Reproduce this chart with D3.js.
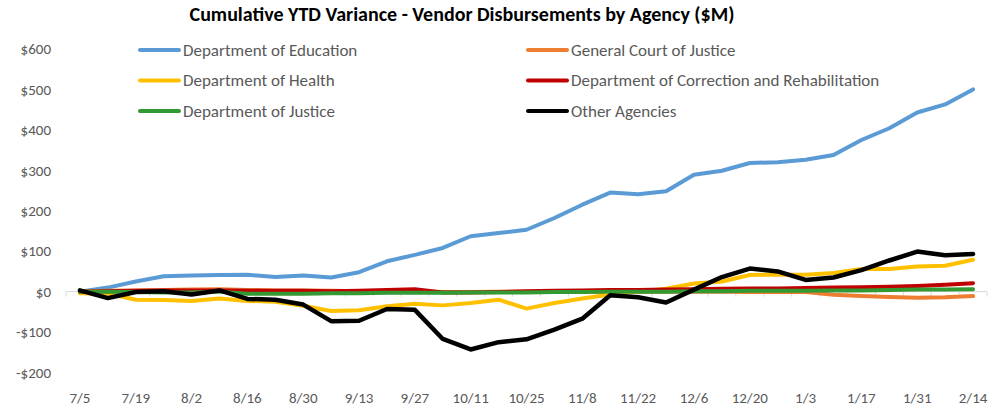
<!DOCTYPE html>
<html>
<head>
<meta charset="utf-8">
<script src="https://cdn.jsdelivr.net/npm/d3@7"></script>
<style>
  body { margin: 0; background: #fff; }
  text { font-family: Carlito, Lato, "Open Sans", sans-serif; }
</style>
</head>
<body>
<div id="chart"></div>
<script>
// week labels (every week, only every 2nd one is shown on the axis)
var weeks = ["7/5","7/12","7/19","7/26","8/2","8/9","8/16","8/23","8/30","9/6","9/13","9/20","9/27",
    "10/4","10/11","10/18","10/25","11/1","11/8","11/15","11/22","11/29","12/6","12/13","12/20",
    "12/27","1/3","1/10","1/17","1/24","1/31","2/7","2/14"];

var yTicks = [-200, -100, 0, 100, 200, 300, 400, 500, 600];

// series values ($M)
var education = [0, 10, 25, 38, 40, 41, 42, 36, 40, 35, 48, 75, 91, 108, 137, 145, 153, 182, 215, 245, 241, 248, 289, 299, 318, 320, 326, 338, 375, 404, 443, 463, 500];
var generalCourt = [0, 2, 3, 4, 5, 6, 4, 3, 3, 2, 1, 1, 0, -1, -1, 0, 0, 0, 0, 0, 0, 0, 0, 0, -1, -1, -1, -8, -11, -13, -15, -14, -11];
var health = [-4, -5, -20, -21, -23, -17, -23, -25, -35, -48, -46, -36, -30, -34, -28, -20, -42, -28, -17, -7, 0, 7, 20, 25, 41, 42, 42, 46, 56, 56, 62, 64, 79];
var correction = [0, 1, 2, 3, 3, 3, 2, 2, 2, 1, 2, 4, 6, -2, -2, -1, 1, 2, 3, 4, 4, 5, 6, 7, 8, 8, 9, 10, 11, 12, 14, 17, 21];
var justice = [0, 0, -1, -2, -2, 0, -5, -5, -5, -4, -4, -3, -3, -3, -2, -2, -2, -1, -1, 0, 0, 0, 1, 1, 2, 2, 2, 3, 3, 4, 5, 5, 6];
var other = [3, -16, -1, 1, -7, 3, -18, -20, -32, -73, -72, -43, -45, -117, -143, -125, -118, -94, -67, -9, -14, -27, 5, 36, 57, 50, 29, 35, 53, 77, 99, 90, 93];

var seriesNames = ["Department of Education", "General Court of Justice", "Department of Health",
    "Department of Correction and Rehabilitation", "Department of Justice", "Other Agencies"];
var seriesColors = ["#5b9bd5", "#ed7d31", "#ffc000", "#c00000", "#339933", "#000000"];

var series = [education, generalCourt, health, correction, justice, other].map(function(vals, i) {
    return { name: seriesNames[i], color: seriesColors[i], values: vals };
});

var svgWidth = 994;
var svgHeight = 406;

var svg = d3.select('#chart')
    .append('svg')
    .attr('width', svgWidth)
    .attr('height', svgHeight);

// scales
var x = d3.scalePoint()
    .domain(weeks)
    .range([66, 987])
    .padding(0.5);

var y = d3.scaleLinear()
    .domain([-200, 600])
    .range([372.5, 49]);

var step = x.step();

// title
svg.append('text')
    .attr('x', 462)
    .attr('y', 21)
    .attr('text-anchor', 'middle')
    .style('font-size', '20px')
    .style('font-weight', 'bold')
    .attr('fill', '#000')
    .text('Cumulative YTD Variance - Vendor Disbursements by Agency ($M)');

// y axis labels (no line)
svg.append('g')
    .selectAll('text')
    .data(yTicks)
    .enter()
    .append('text')
    .attr('x', 51)
    .attr('y', d => y(d))
    .attr('dy', '0.35em')
    .attr('text-anchor', 'end')
    .attr('fill', '#595959')
    .style('font-size', '15px')
    .text(d => d < 0 ? '-$' + Math.abs(d) : '$' + d);

// x axis sits on zero, ticks between categories
var axisG = svg.append('g');
axisG.append('line')
    .attr('x1', x.range()[0])
    .attr('x2', x.range()[1])
    .attr('y1', y(0))
    .attr('y2', y(0))
    .attr('stroke', '#d9d9d9')
    .attr('stroke-width', 1);

axisG.selectAll('.tick')
    .data(d3.range(weeks.length + 1))
    .enter()
    .append('line')
    .attr('x1', i => x.range()[0] + i * step)
    .attr('x2', i => x.range()[0] + i * step)
    .attr('y1', y(0))
    .attr('y2', y(0) + 5)
    .attr('stroke', '#d9d9d9');

// x labels along the bottom
svg.append('g')
    .selectAll('text')
    .data(weeks.filter((d, i) => i % 2 === 0))
    .enter()
    .append('text')
    .attr('x', d => x(d))
    .attr('y', 403)
    .attr('text-anchor', 'middle')
    .attr('fill', '#595959')
    .style('font-size', '15px')
    .text(d => d);

// lines
var line = d3.line()
    .x((d, i) => x(weeks[i]))
    .y(d => y(d));

svg.append('g')
    .selectAll('path')
    .data(series)
    .enter()
    .append('path')
    .attr('d', d => line(d.values))
    .attr('fill', 'none')
    .attr('stroke', d => d.color)
    .attr('stroke-width', d => d.name === 'Other Agencies' ? 4.5 : 4)
    .attr('stroke-linejoin', 'round')
    .attr('stroke-linecap', 'round');

// legend, 2 columns x 3 rows
var legend = svg.append('g')
    .selectAll('g')
    .data(series)
    .enter()
    .append('g')
    .attr('transform', (d, i) => `translate(${i % 2 === 0 ? 140 : 528}, ${50 + Math.floor(i / 2) * 30.5})`);

legend.append('line')
    .attr('x1', 0)
    .attr('x2', 39)
    .attr('stroke', d => d.color)
    .attr('stroke-width', 4)
    .attr('stroke-linecap', 'round');

legend.append('text')
    .attr('x', 43)
    .attr('dy', '0.35em')
    .attr('fill', '#595959')
    .style('font-size', '17px')
    .text(d => d.name);
</script>
</body>
</html>
